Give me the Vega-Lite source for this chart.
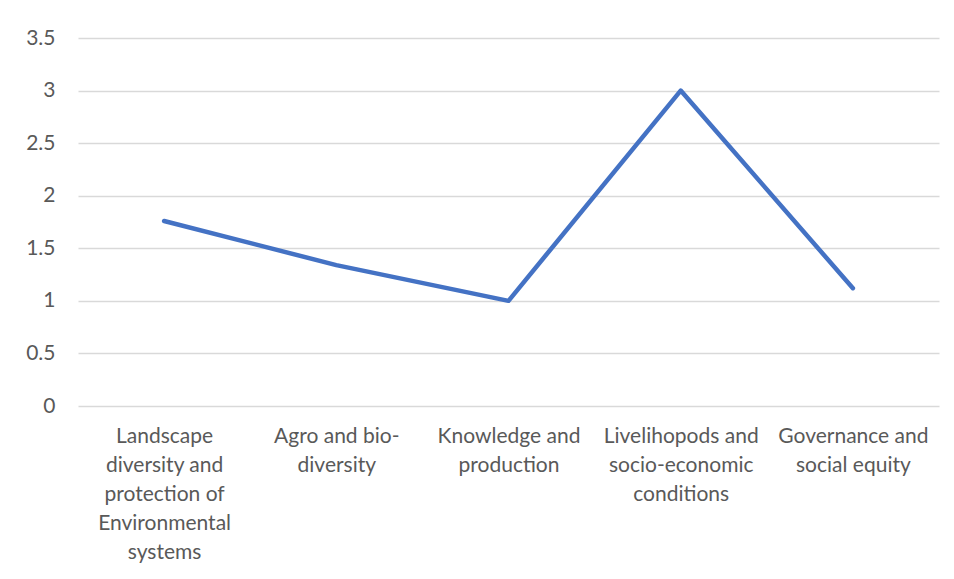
{
  "$schema": "https://vega.github.io/schema/vega-lite/v6.json",
  "width": 861,
  "height": 368,
  "autosize": {"type": "none"},
  "padding": {"left": 78, "top": 38, "right": 15, "bottom": 173},
  "background": "white",
  "config": {
    "view": {"stroke": null},
    "font": "Lato"
  },
  "data": {
    "values": [
      {"category": "Landscape diversity and protection of Environmental systems", "value": 1.76},
      {"category": "Agro and bio-diversity", "value": 1.34},
      {"category": "Knowledge and production", "value": 1.0},
      {"category": "Livelihopods and socio-economic conditions", "value": 3.0},
      {"category": "Governance and social equity", "value": 1.12}
    ]
  },
  "mark": {"type": "line", "color": "#4472C4", "strokeWidth": 4.5, "strokeCap": "round", "strokeJoin": "round"},
  "encoding": {
    "x": {
      "field": "category",
      "type": "nominal",
      "sort": null,
      "scale": {"type": "point", "padding": 0.5},
      "axis": {
        "title": null,
        "domain": false,
        "ticks": false,
        "grid": false,
        "labelAngle": 0,
        "labelFont": "Lato",
        "labelFontSize": 21,
        "labelColor": "#595959",
        "labelBaseline": "top",
        "labelPadding": 19,
        "labelLineHeight": 29,
        "labelLimit": 0,
        "labelExpr": "datum.value == 'Landscape diversity and protection of Environmental systems' ? ['Landscape', 'diversity and', 'protection of', 'Environmental', 'systems'] : datum.value == 'Agro and bio-diversity' ? ['Agro and bio-', 'diversity'] : datum.value == 'Knowledge and production' ? ['Knowledge and', 'production'] : datum.value == 'Livelihopods and socio-economic conditions' ? ['Livelihopods and', 'socio-economic', 'conditions'] : ['Governance and', 'social equity']"
      }
    },
    "y": {
      "field": "value",
      "type": "quantitative",
      "scale": {"domain": [0, 3.5], "nice": false},
      "axis": {
        "title": null,
        "values": [0, 0.5, 1, 1.5, 2, 2.5, 3, 3.5],
        "format": "~g",
        "domain": false,
        "ticks": false,
        "grid": true,
        "gridColor": "#D9D9D9",
        "gridWidth": 1.3,
        "labelFont": "Lato",
        "labelFontSize": 21,
        "labelColor": "#595959",
        "labelPadding": 23
      }
    }
  }
}
